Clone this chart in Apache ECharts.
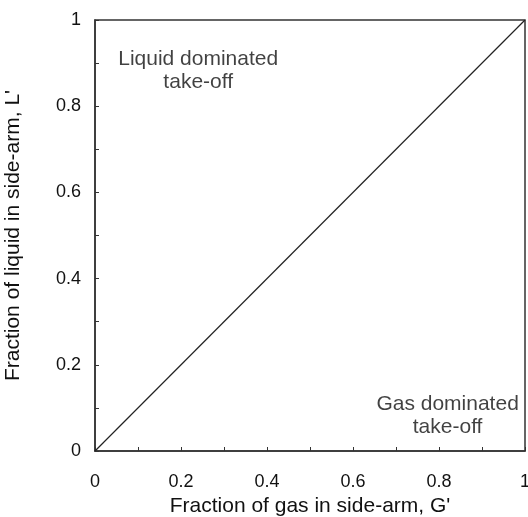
<!DOCTYPE html>
<html>
<head>
<meta charset="utf-8">
<script src="https://cdn.jsdelivr.net/npm/echarts@6/dist/echarts.min.js"></script>
<style>
  html, body { margin: 0; padding: 0; background: #fff; }
  #chart { width: 528px; height: 517px; }
</style>
</head>
<body>
<div id="chart"></div>
<script>
// Equal-split line: fraction of liquid equals fraction of gas in the side-arm
const gasFraction = [0, 1];
const liquidFraction = [0, 1];

// Region annotations, placed in data coordinates [G', L']
const regionNames = ['Liquid dominated\ntake-off', 'Gas dominated\ntake-off'];
const regionPositions = [[0.24, 0.882], [0.82, 0.082]];

const xAxisTitle = "Fraction of gas in side-arm, G'";
const yAxisTitle = "Fraction of liquid in side-arm, L'";

const axisColor = '#333';
const font = 'Liberation Sans, Arial, sans-serif';

const chart = echarts.init(document.getElementById('chart'));

function valueAxis(name, gap, rotate, labelMargin) {
  return {
    type: 'value',
    min: 0,
    max: 1,
    interval: 0.2,
    name: name,
    nameLocation: 'middle',
    nameGap: gap,
    nameRotate: rotate,
    nameTextStyle: { color: '#111', fontSize: 21, fontFamily: font },
    axisLine: { show: true, lineStyle: { color: axisColor, width: 1.5 } },
    axisTick: { show: true, inside: true, length: 4, lineStyle: { color: axisColor, width: 1 } },
    minorTick: { show: true, splitNumber: 2, length: 4, lineStyle: { color: axisColor, width: 1 } },
    splitLine: { show: false },
    axisLabel: {
      color: '#111', fontSize: 18, fontFamily: font, margin: labelMargin,
      formatter: v => (Math.round(v * 10) / 10).toString()
    }
  };
}

chart.setOption({
  animation: false,
  backgroundColor: '#fff',
  grid: {
    left: 95, right: 3, top: 20, bottom: 66,
    outerBoundsMode: 'none',
    show: true, borderColor: axisColor, borderWidth: 1.5
  },
  xAxis: valueAxis(xAxisTitle, 38, 0, 22),
  yAxis: valueAxis(yAxisTitle, 71, 90, 14),
  series: [
    {
      type: 'line',
      data: gasFraction.map((g, i) => [g, liquidFraction[i]]),
      showSymbol: false,
      lineStyle: { color: '#222', width: 1.2 }
    },
    {
      type: 'scatter',
      symbolSize: 0,
      data: regionPositions.map((p, i) => ({ value: p, name: regionNames[i] })),
      label: {
        show: true,
        position: 'inside',
        formatter: p => p.name,
        color: '#111',
        fontSize: 21,
        lineHeight: 23,
        align: 'center',
        fontFamily: font
      }
    }
  ]
});
</script>
</body>
</html>
